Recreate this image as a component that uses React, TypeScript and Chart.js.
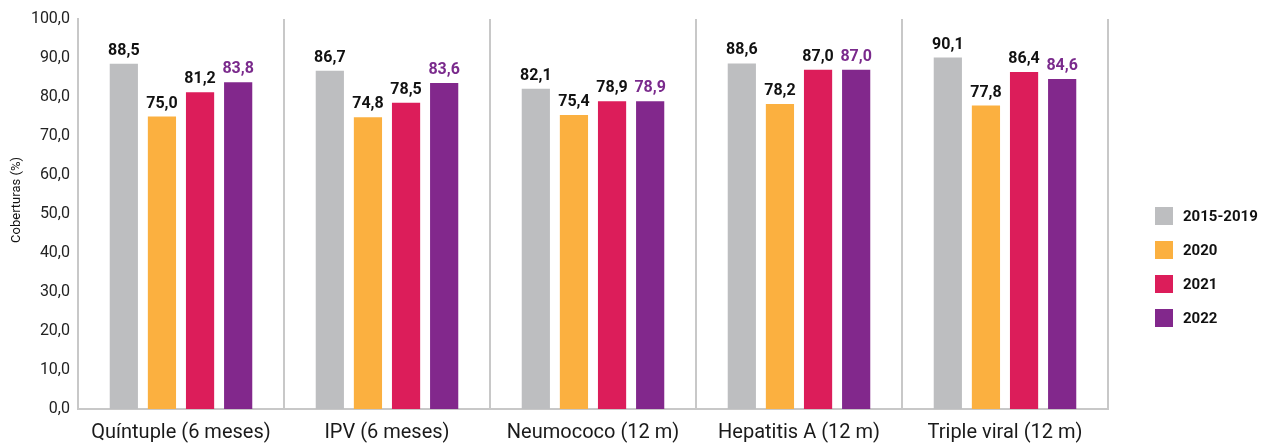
import React, { useEffect, useRef } from "react";
import { Chart, registerables } from "chart.js";

Chart.register(...registerables);

const categories = [
  "Quíntuple (6 meses)",
  "IPV (6 meses)",
  "Neumococo (12 m)",
  "Hepatitis A (12 m)",
  "Triple viral (12 m)",
];
const seriesLabels = ["2015-2019", "2020", "2021", "2022"];
const values20152019 = [88.5, 86.7, 82.1, 88.6, 90.1];
const values2020 = [75.0, 74.8, 75.4, 78.2, 77.8];
const values2021 = [81.2, 78.5, 78.9, 87.0, 86.4];
const values2022 = [83.8, 83.6, 78.9, 87.0, 84.6];
const seriesColors = ["#bdbec0", "#fbb040", "#dc1d5a", "#82288c"];
const labelColors = ["#111111", "#111111", "#111111", "#7a2a8c"];
const yTicks = [0, 10, 20, 30, 40, 50, 60, 70, 80, 90, 100];
const yTitle = "Coberturas (%)";

const fmt = (v: number) => v.toFixed(1).replace(".", ",");
const FONT = "Roboto, 'Noto Sans', sans-serif";

const valueLabelPlugin = {
  id: "valueLabels",
  afterDatasetsDraw(chart: any) {
    const ctx = chart.ctx;
    ctx.save();
    ctx.font = `bold 16px ${FONT}`;
    ctx.textAlign = "center";
    ctx.textBaseline = "alphabetic";
    chart.data.datasets.forEach((ds: any, di: number) => {
      const meta = chart.getDatasetMeta(di);
      ctx.fillStyle = labelColors[di];
      meta.data.forEach((el: any, i: number) => {
        ctx.fillText(fmt(ds.data[i]), el.x, el.y - 9);
      });
    });
    ctx.restore();
  },
};

const legendPlugin = {
  id: "customLegend",
  afterDraw(chart: any) {
    const ctx = chart.ctx;
    ctx.save();
    ctx.font = `bold 15px ${FONT}`;
    ctx.textAlign = "left";
    ctx.textBaseline = "middle";
    const x0 = 1155;
    const y0 = 216;
    const gap = 34;
    chart.data.datasets.forEach((ds: any, di: number) => {
      const cy = y0 + di * gap;
      ctx.fillStyle = ds.backgroundColor;
      ctx.fillRect(x0, cy - 9, 18, 18);
      ctx.fillStyle = "#111111";
      ctx.fillText(ds.label, x0 + 28, cy + 1);
    });
    // y axis title
    ctx.translate(17, 200);
    ctx.rotate(-Math.PI / 2);
    ctx.font = `13px ${FONT}`;
    ctx.textAlign = "center";
    ctx.textBaseline = "middle";
    ctx.fillStyle = "#111111";
    ctx.fillText(yTitle, 0, 0);
    ctx.restore();
  },
};

export default function App() {
  const ref = useRef<HTMLCanvasElement | null>(null);

  useEffect(() => {
    if (!ref.current) return;
    const seriesValues = [values20152019, values2020, values2021, values2022];
    const chart = new Chart(ref.current, {
      type: "bar",
      data: {
        labels: categories,
        datasets: seriesLabels.map((label, i) => ({
          label,
          data: seriesValues[i],
          backgroundColor: seriesColors[i],
          borderWidth: 0,
          categoryPercentage: 0.74,
          barPercentage: 0.74,
        })),
      },
      options: {
        animation: false,
        responsive: true,
        maintainAspectRatio: false,
        layout: { padding: { top: 19, right: 165, left: 0, bottom: 0 } },
        plugins: {
          legend: { display: false },
          tooltip: { enabled: false },
        },
        scales: {
          x: {
            grid: {
              display: true,
              offset: true,
              color: "#c8c8c8",
              lineWidth: 2,
              drawTicks: false,
            },
            border: { display: true, color: "#c8c8c8", width: 2 },
            ticks: {
              padding: 12,
              color: "#1a1a1a",
              font: { family: FONT, size: 20 },
              maxRotation: 0,
              autoSkip: false,
            },
            afterFit: (scale: any) => {
              scale.height = 35;
            },
          },
          y: {
            min: 0,
            max: 100,
            afterBuildTicks: (scale: any) => {
              scale.ticks = yTicks.map((v) => ({ value: v }));
            },
            grid: { display: false, drawTicks: false },
            border: { display: true, color: "#c8c8c8", width: 2 },
            ticks: {
              padding: 8,
              color: "#222222",
              font: { family: FONT, size: 16 },
              callback: (v: any) => fmt(Number(v)),
            },
            afterFit: (scale: any) => {
              scale.width = 78;
            },
          },
        },
      },
      plugins: [valueLabelPlugin, legendPlugin],
    });
    return () => chart.destroy();
  }, []);

  return (
    <div
      style={{
        position: "absolute",
        left: 0,
        top: 0,
        width: 1273,
        height: 444,
        background: "#ffffff",
      }}
    >
      <canvas ref={ref} />
    </div>
  );
}
